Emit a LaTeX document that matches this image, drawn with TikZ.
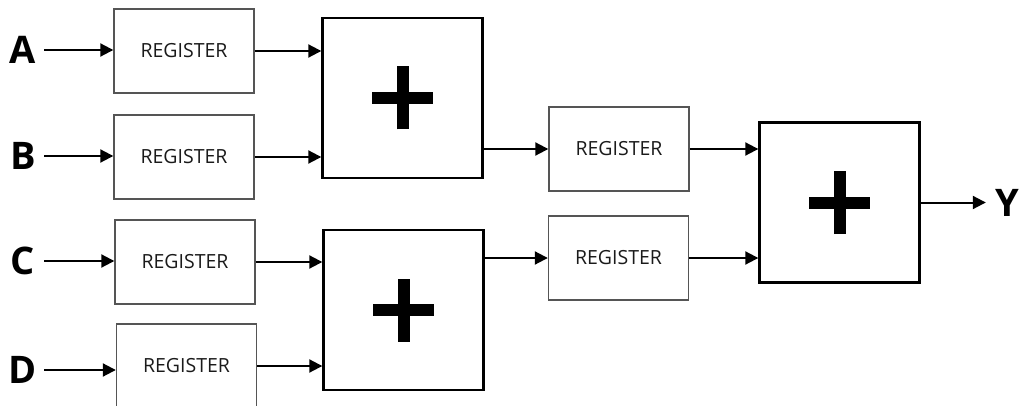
\documentclass[tikz,border=0pt]{standalone}
\usepackage{fontspec}
\setmainfont{Open Sans}
\usetikzlibrary{arrows.meta}
\definecolor{ink}{HTML}{1A1A1A}
\definecolor{frame}{HTML}{555555}
\newcommand{\PortX}{23}
\newcommand{\PlusArm}{30.5}

\begin{document}
\begin{tikzpicture}[
    x=1pt, y=-1pt, ink,
    wire/.style={-{Triangle[length=13pt, width=13pt]}, line width=2pt, draw=black},
    reg/.style={draw=frame, line width=1.4pt, minimum width=140pt, minimum height=84pt, inner sep=0pt, text=ink, font=\fontsize{19.5}{22}\selectfont},
    adder/.style={draw=black, line width=2.4pt, minimum width=160pt, minimum height=160pt, inner sep=0pt,
      path picture={
        \draw[line width=12pt, black] ([xshift=-\PlusArm pt]path picture bounding box.center) -- ([xshift=\PlusArm pt]path picture bounding box.center);
        \draw[line width=12pt, black] ([yshift=-31.5pt]path picture bounding box.center) -- ([yshift=31.5pt]path picture bounding box.center);
      }},
    port/.style={font=\fontsize{38}{40}\selectfont\bfseries, text=black, minimum width=42pt, inner sep=0pt},
  ]
\useasboundingbox (0,0) rectangle (1019,406);

% --- Inputs and their registers ----------------------------------------------
\foreach \n/\py/\rx/\ry in {A/50/184/51, B/156/184/157, C/261/185/262, D/370/186.5/366} {
  \node[port] (in\n) at (\PortX, \py) {\n};
  \node[reg] (reg\n) at (\rx, \ry) {REGISTER};
  \draw[wire] (in\n.east) -- (in\n.east -| reg\n.west);
}

% --- First stage adders --------------------------------------------------------
\node[adder] (addAB) at (402.5, 98) {};
\node[adder] (addCD) at (403.5, 310) {};
\draw[wire] (regA.east) -- (regA.east -| addAB.west);
\draw[wire] (regB.east) -- (regB.east -| addAB.west);
\draw[wire] (regC.east) -- (regC.east -| addCD.west);
\draw[wire] (regD.east) -- (regD.east -| addCD.west);

% --- Pipeline registers ----------------------------------------------------------
\node[reg] (regS1) at (619, 149) {REGISTER};
\node[reg] (regS2) at (618.5, 258) {REGISTER};
\draw[wire] (addAB.east |- regS1.west) -- (regS1.west);
\draw[wire] (addCD.east |- regS2.west) -- (regS2.west);

% --- Final adder and output ----------------------------------------------------
\node[adder] (addY) at (839.5, 202.5) {};
\node[port] (outY) at (1007, 202.5) {Y};
\draw[wire] (regS1.east) -- (regS1.east -| addY.west);
\draw[wire] (regS2.east) -- (regS2.east -| addY.west);
\draw[wire] (addY.east) -- (outY.west);

\end{tikzpicture}
\end{document}
